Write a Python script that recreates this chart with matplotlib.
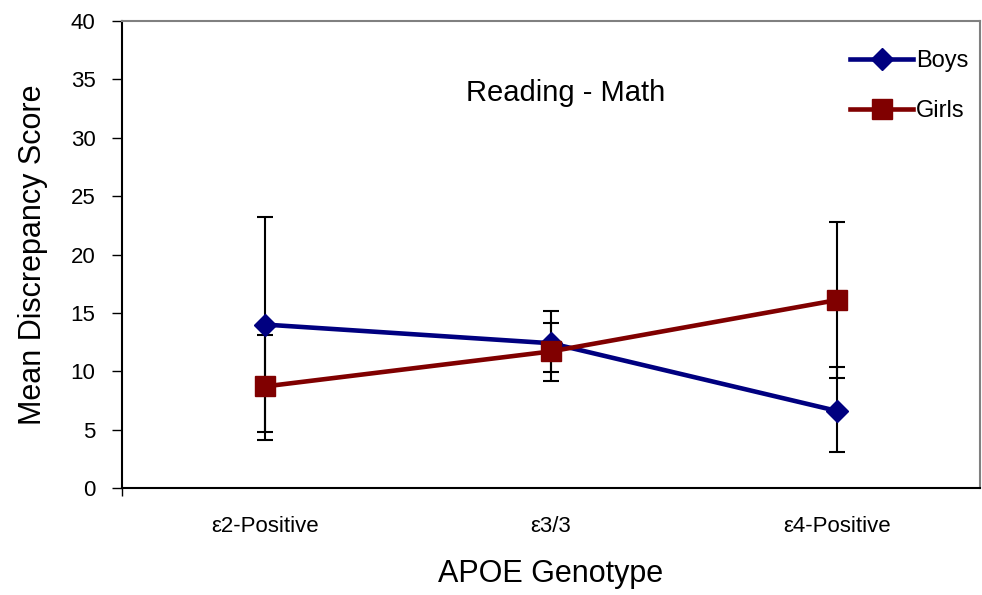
import matplotlib.pyplot as plt

plt.rcParams['font.family'] = ['Liberation Sans', 'DejaVu Sans']

genotypes = ['ε2-Positive', 'ε3/3', 'ε4-Positive']
boys = [14.0, 12.4, 6.6]
girls = [8.7, 11.7, 16.1]
# error bar ends (low, high) for each genotype
boys_low = [4.8, 9.2, 3.1]
boys_high = [23.2, 15.2, 10.4]
girls_low = [4.1, 9.9, 9.4]
girls_high = [13.1, 14.1, 22.8]

x = list(range(len(genotypes)))

fig = plt.figure(figsize=(9.82, 5.95), dpi=100)
ax = fig.add_axes([0.1242, 0.1798, 0.8738, 0.7849])

# error bars first so the markers sit on top
ax.errorbar(x, boys, yerr=[[b - l for b, l in zip(boys, boys_low)],
                           [h - b for b, h in zip(boys, boys_high)]],
            fmt='none', ecolor='black', elinewidth=1.5, capsize=5.5, capthick=1.5, zorder=2)
ax.errorbar(x, girls, yerr=[[g - l for g, l in zip(girls, girls_low)],
                            [h - g for g, h in zip(girls, girls_high)]],
            fmt='none', ecolor='black', elinewidth=1.5, capsize=5.5, capthick=1.5, zorder=2)

ax.plot(x, boys, color='#000080', lw=3.3, marker='D', markersize=11, label='Boys', zorder=3)
ax.plot(x, girls, color='#800000', lw=3.3, marker='s', markersize=14, label='Girls', zorder=3)

ax.set_xlim(-0.5, 2.5)
ax.set_ylim(0, 40)
ax.set_yticks(range(0, 41, 5))
ax.tick_params(axis='y', labelsize=16, length=7, width=1, direction='out', pad=12)
ax.set_xticks(x)
ax.set_xticklabels(genotypes, fontsize=16)
ax.tick_params(axis='x', which='major', length=0, pad=20)
ax.set_xticks([-0.5], minor=True)
ax.tick_params(axis='x', which='minor', length=6, width=1, direction='out')

for side in ['left', 'bottom']:
    ax.spines[side].set_color('black')
    ax.spines[side].set_linewidth(1.5)
for side in ['top', 'right']:
    ax.spines[side].set_color('#808080')
    ax.spines[side].set_linewidth(1.5)

ax.set_ylabel('Mean Discrepancy Score', fontsize=22, labelpad=16)
ax.set_xlabel('APOE Genotype', fontsize=22, labelpad=16)

ax.text(1.05, 33.8, 'Reading - Math', fontsize=21, ha='center', va='center')

ax.legend(loc='upper right', frameon=False, fontsize=17, handlelength=2.7,
          handletextpad=0.1, labelspacing=1.2, borderaxespad=0.1,
          bbox_to_anchor=(1.0, 0.963))

fig.savefig('out.png', dpi=100)
